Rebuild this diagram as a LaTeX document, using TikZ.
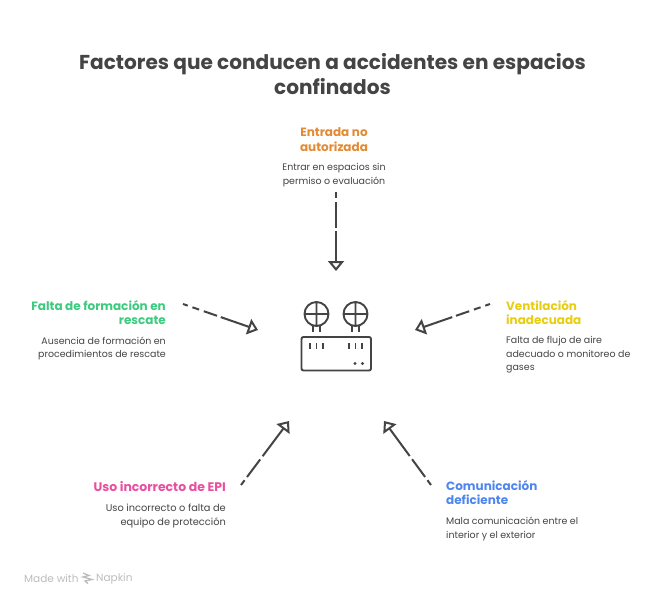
\documentclass[tikz,border=0pt]{standalone}
\usepackage{fontspec}
\setmainfont{Poppins}
\usetikzlibrary{arrows.meta}
\definecolor{ink}{HTML}{444444}
\definecolor{cOrange}{HTML}{E38A33}
\definecolor{cGreen}{HTML}{3CCB7F}
\definecolor{cYellow}{HTML}{E8CE12}
\definecolor{cPink}{HTML}{E84FA0}
\definecolor{cBlue}{HTML}{4F86EE}
\definecolor{cGray}{HTML}{BDBDBD}
\tikzset{
  x=1pt,y=-1pt,
  conn/.style={draw=ink,line width=2pt,
    -{Triangle[open,fill=white,length=10pt,width=16pt,line width=2pt]}},
  dashV/.style={dash pattern=on 6pt off 4pt on 26pt off 3pt on 200pt off 0pt},
  dashS/.style={dash pattern=on 5pt off 5pt on 7pt off 5pt on 14pt off 4pt on 200pt off 0pt},
  dashD/.style={dash pattern=on 6pt off 4pt on 22pt off 4pt on 200pt off 0pt},
  icon/.style={draw=ink,line width=1.9pt},
  head/.style={inner sep=0pt,font=\fontsize{12}{14.5}\selectfont\bfseries},
  desc/.style={inner sep=0pt,text=ink,font=\fontsize{9.45}{13.5}\selectfont},
  titletext/.style={inner sep=0pt,text=ink,align=center,font=\fontsize{20.1}{25}\selectfont\bfseries},
}
\begin{document}
\begin{tikzpicture}
\useasboundingbox (0,0) rectangle (672,606);
\fill[white] (0,0) rectangle (672,606);
\node[titletext] (title) at (332.5,74) {Factores que conducen a accidentes en espacios\\confinados};
% top
\node[head,text=cOrange,align=center] (h1) at (334,139.5) {Entrada no\\autorizada};
\node[desc,align=center] (d1) at (334,175) {Entrar en espacios sin\\permiso o evaluación};
% left
\node[head,text=cGreen,align=right,anchor=north east] (h2) at (166,300) {Falta de formación en\\rescate};
\node[desc,align=right,anchor=north east] (d2) at (166,336.5) {Ausencia de formación en\\procedimientos de rescate};
% right
\node[head,text=cYellow,align=left,anchor=north west] (h3) at (506,300) {Ventilación\\inadecuada};
\node[desc,align=left,anchor=north west] (d3) at (506,336.5) {Falta de flujo de aire\\adecuado o monitoreo de\\gases};
% bottom left
\node[head,text=cPink,align=right,anchor=north east,font=\fontsize{12.45}{14.5}\selectfont\bfseries] (h4) at (226,481) {Uso incorrecto de EPI};
\node[desc,align=right,anchor=north east,font=\fontsize{9.8}{13.5}\selectfont] (d4) at (226,504) {Uso incorrecto o falta de\\equipo de protección};
% bottom right
\node[head,text=cBlue,align=left,anchor=north west] (h5) at (446,480) {Comunicación\\deficiente};
\node[desc,align=left,anchor=north west] (d5) at (446,517) {Mala comunicación entre el\\interior y el exterior};
% icon
\draw[icon,rounded corners=2pt] (301.5,337) rectangle (371,370.5);
\draw[icon] (316.5,314) circle (12) (304.5,314) -- (328.5,314) (316.5,302) -- (316.5,326);
\draw[icon] (355.5,314) circle (12) (343.5,314) -- (367.5,314) (355.5,302) -- (355.5,326);
\draw[icon] (313,326) -- (313,332) (320,326) -- (320,332) (352,326) -- (352,332) (359,326) -- (359,332);
\draw[icon] (310,343) -- (310,349) (316.5,343) -- (316.5,349) (323,343) -- (323,349)
            (349,343) -- (349,349) (355.5,343) -- (355.5,349) (362,343) -- (362,349);
\fill[ink] (355,363.5) circle (1.7) (362.5,363.5) circle (1.7);
% connector ends
\coordinate (s1) at (336,192); \coordinate (e1) at (336,271);
\coordinate (s2) at (183,304); \coordinate (e2) at (258,330);
\coordinate (s3) at (490,304); \coordinate (e3) at (415,330);
\coordinate (s4) at (241,485); \coordinate (e4) at (289,421);
\coordinate (s5) at (431,485); \coordinate (e5) at (384,421);
\draw[conn,dashV] (s1) -- (e1);
\draw[conn,dashS] (s2) -- (e2);
\draw[conn,dashS] (s3) -- (e3);
\draw[conn,dashD] (s4) -- (e4);
\draw[conn,dashD] (s5) -- (e5);
% footer
\node[inner sep=0pt,anchor=west,text=cGray,font=\fontsize{10.5}{12}\selectfont] (made) at (24,578.5) {Made with};
\node[inner sep=0pt,anchor=west,text=cGray,font=\fontsize{10.5}{12}\selectfont] (nap) at (96,578.5) {Napkin};
\draw[cGray,line width=1.3pt] (83,573) -- (89,575.5) -- (83,577) -- (92,579.5) -- (85,581) -- (88,583.5);
\end{tikzpicture}
\end{document}
